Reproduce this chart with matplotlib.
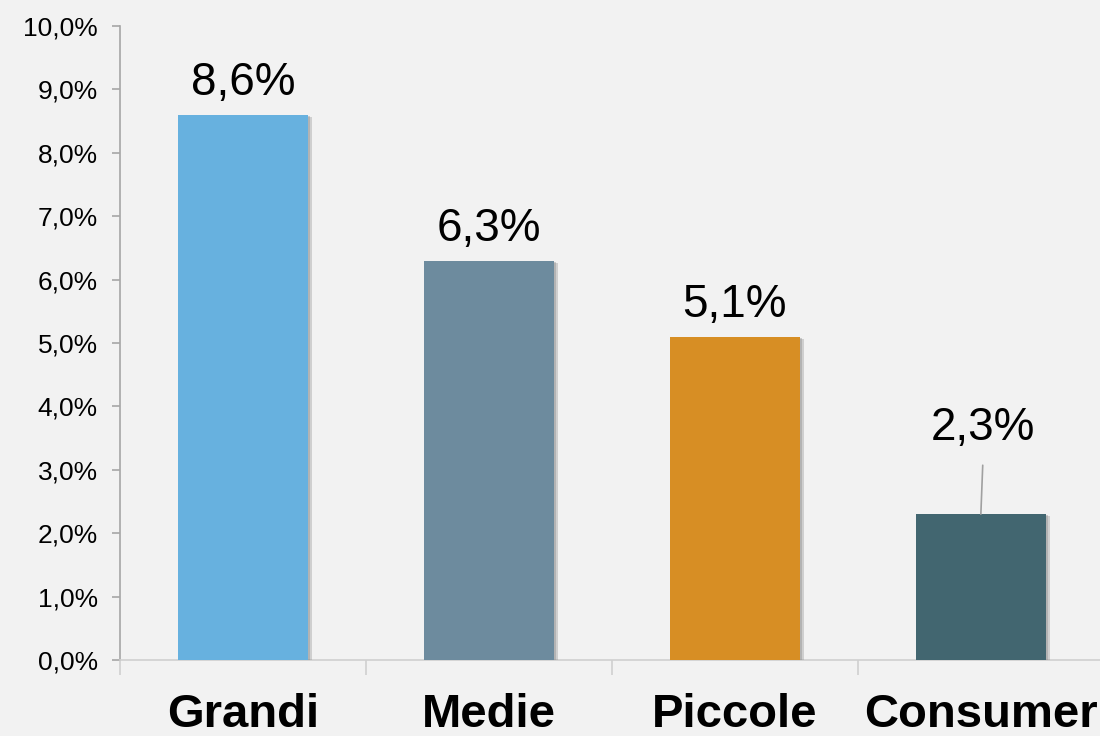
import numpy as np
import matplotlib.pyplot as plt
import matplotlib.patheffects as pe

categories = ['Grandi', 'Medie', 'Piccole', 'Consumer']
values = [8.6, 6.3, 5.1, 2.3]
labels = ['8,6%', '6,3%', '5,1%', '2,3%']
colors = ['#67b1df', '#6d8b9e', '#d78e24', '#426670']
yticks = np.arange(0, 11, 1)

plt.rcParams['font.family'] = ['Liberation Sans', 'DejaVu Sans']

fig = plt.figure(figsize=(11, 7.36), dpi=100, facecolor='#f2f2f2')
ax = fig.add_axes([0.109, 0.1033, 0.8945, 0.8614])
ax.set_facecolor('#f2f2f2')

x = np.arange(len(categories))
bars = ax.bar(x, values, width=0.53, color=colors, zorder=3)
# soft shadow on the right side of the bars
for b in bars:
    b.set_path_effects([pe.SimplePatchShadow(offset=(3, -1.5), shadow_rgbFace='#909090', alpha=0.35),
                        pe.SimplePatchShadow(offset=(1.5, -0.8), shadow_rgbFace='#808080', alpha=0.35),
                        pe.Normal()])

ax.set_xlim(-0.5, 3.5)
ax.set_ylim(0, 10)

# value labels
for i in range(3):
    ax.annotate(labels[i], (x[i], values[i]), xytext=(0, 14), textcoords='offset points',
                ha='center', va='baseline', fontsize=33)
ax.annotate(labels[3], xy=(x[3], values[3]), xytext=(x[3] + 0.01, 3.47),
            ha='center', va='baseline', fontsize=33,
            arrowprops=dict(arrowstyle='-', color='#a0a0a0', lw=1.2,
                            shrinkA=9, shrinkB=0, relpos=(0.5, 0)))

ax.set_yticks(yticks)
ax.set_yticklabels([f'{v:.1f}%'.replace('.', ',') for v in yticks], fontsize=19)
ax.tick_params(axis='y', length=6, color='#a6a6a6', width=1.2, pad=10)

ax.set_xticks(x)
ax.set_xticklabels(categories, fontsize=34, fontweight='bold')
ax.tick_params(axis='x', which='major', length=0, pad=24)
ax.set_xticks(np.arange(-0.5, 4, 1), minor=True)
ax.tick_params(axis='x', which='minor', length=11, color='#d0d0d0', width=1.2)

for s in ['top', 'right']:
    ax.spines[s].set_visible(False)
ax.spines['left'].set_color('#a6a6a6')
ax.spines['left'].set_linewidth(1.2)
ax.spines['bottom'].set_color('#d0d0d0')
ax.spines['bottom'].set_linewidth(1.2)

fig.savefig('out.png', dpi=100, facecolor=fig.get_facecolor())
